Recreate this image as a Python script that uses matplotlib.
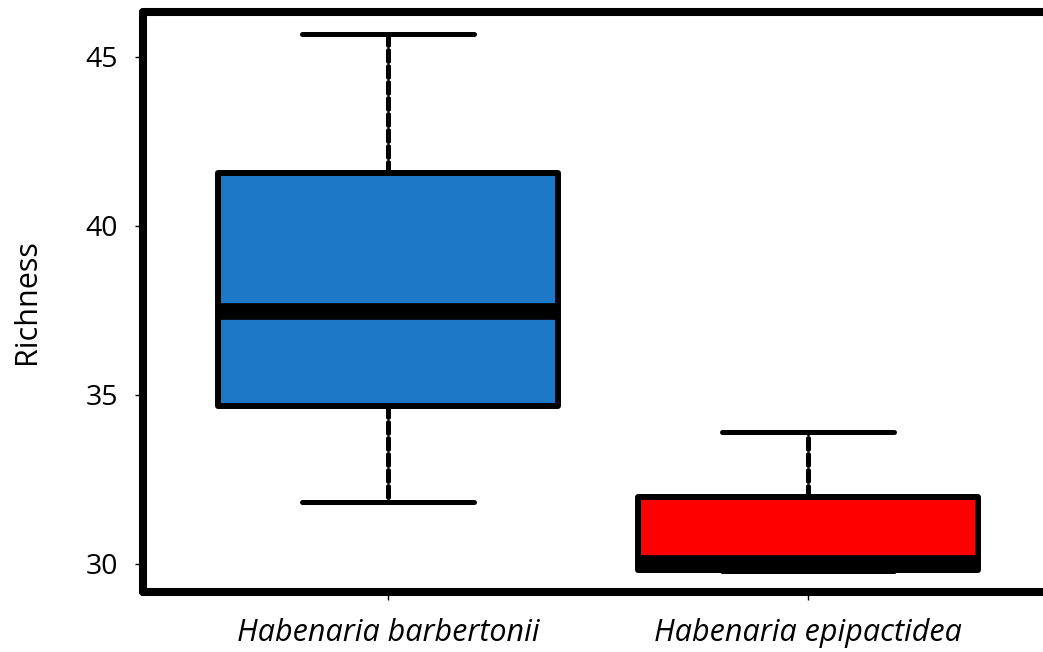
import matplotlib
matplotlib.use("Agg")
import matplotlib.pyplot as plt

# species and their richness summaries (five-number style)
species = ["Habenaria barbertonii", "Habenaria epipactidea"]
whisker_lo = [31.83, 29.80]
q1 = [34.67, 29.82]
median = [37.49, 30.02]
q3 = [41.57, 31.98]
whisker_hi = [45.68, 33.91]
box_colors = ["#1e78c8", "#ff0000"]

FONT = "Open Sans"
plt.rcParams["font.family"] = [FONT, "DejaVu Sans"]

fig = plt.figure(figsize=(10.43, 6.52), dpi=100)
# the right spine sits just past the edge of the figure
ax = fig.add_axes([143 / 1043, 60 / 652, 910 / 1043, 580 / 652])

stats = []
for i, name in enumerate(species):
    stats.append(dict(label=name, whislo=whisker_lo[i], q1=q1[i], med=median[i],
                      q3=q3[i], whishi=whisker_hi[i], fliers=[]))

bp = ax.bxp(stats, positions=[1, 2], widths=0.81, capwidths=0.41,
            patch_artist=True, showfliers=False,
            boxprops=dict(linewidth=4.3, edgecolor="black", joinstyle="round"),
            medianprops=dict(linewidth=12, color="black", solid_capstyle="butt"),
            whiskerprops=dict(linewidth=3.6, color="black", linestyle=(0, (2.2, 1.0)),
                              dash_capstyle="round"),
            capprops=dict(linewidth=3.6, color="black", solid_capstyle="round"))

for patch, c in zip(bp["boxes"], box_colors):
    patch.set_facecolor(c)

ax.set_xlim(1 - 245 / 420, 1 - 245 / 420 + 910 / 420)
ax.set_ylim(30 - 28 / 33.8, 45 + 45 / 33.8)
ax.set_yticks([30, 35, 40, 45])

for side in ["left", "bottom", "top", "right"]:
    ax.spines[side].set_linewidth(5.8)
    ax.spines[side].set_capstyle("round")

ax.tick_params(axis="both", length=6, width=1)
ax.tick_params(axis="y", labelsize=20.5, pad=12)
ax.set_xticklabels(species, fontstyle="italic", fontsize=22)
ax.tick_params(axis="x", pad=13)
ax.set_ylabel("Richness", fontsize=22, labelpad=31)

fig.savefig("out.png", dpi=100)
